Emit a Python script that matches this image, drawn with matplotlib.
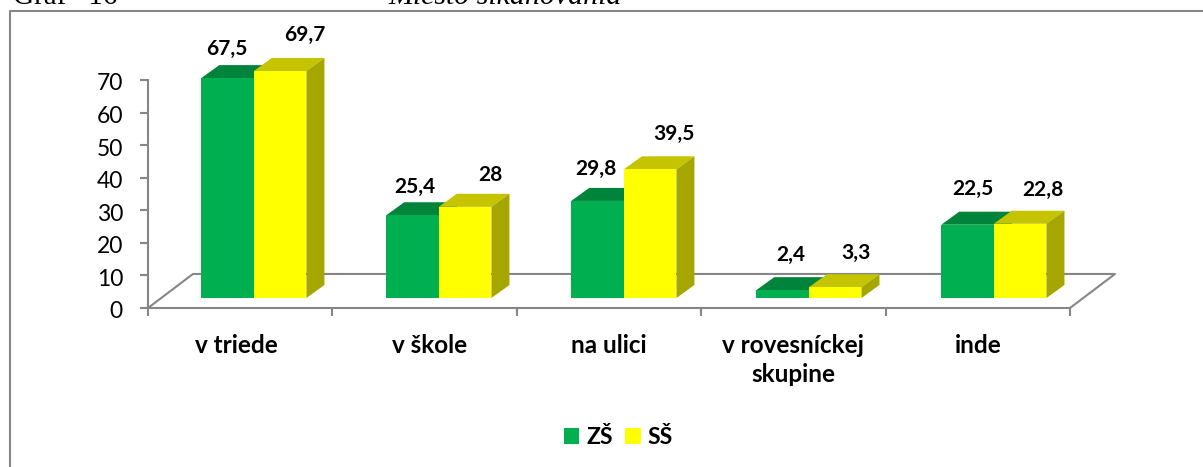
import matplotlib
matplotlib.use("Agg")
import matplotlib.pyplot as plt
from matplotlib.lines import Line2D
from matplotlib.patches import Patch, Polygon, Rectangle
from matplotlib.transforms import ScaledTranslation

categories = ["v triede", "v škole", "na ulici", "v rovesníckej\nskupine", "inde"]
zs_values = [67.5, 25.4, 29.8, 2.4, 22.5]
ss_values = [69.7, 28, 39.5, 3.3, 22.8]
zs_labels = ["67,5", "25,4", "29,8", "2,4", "22,5"]
ss_labels = ["69,7", "28", "39,5", "3,3", "22,8"]
yticks = [0, 10, 20, 30, 40, 50, 60, 70]

W, H = 1203, 467
FONT = "Lato"
GREY = "#868686"

# plot box in pixels
LEFT, RIGHT, BOTTOM, TOP = 148, 1070, 308, 80
BAR_W = 0.2853
BASE = 3.07
DEPTH_X = 0.0976
DEPTH_Y = 4.0
FLOOR_X = 0.244
FLOOR_Y = 10.45

# label nudges in pixels, relative to the middle of the front top edge
ZS_NUDGE = [(-1, 29), (2, 28), (-2, 32), (8, 35), (5, 36)]
SS_NUDGE = [(25, 36), (25, 32), (24, 35), (21, 34), (23, 34)]
CAT_NUDGE = [-4, 5, 0, 0, 0]


def bar3d(ax, x, value, front, top, side):
    y0 = BASE
    y1 = BASE + value
    x1 = x + BAR_W
    ax.add_patch(Polygon([(x, y1), (x + DEPTH_X, y1 + DEPTH_Y), (x1 + DEPTH_X, y1 + DEPTH_Y), (x1, y1)],
                         facecolor=top, edgecolor="none", clip_on=False, zorder=3))
    ax.add_patch(Polygon([(x1, y0), (x1 + DEPTH_X, y0 + DEPTH_Y), (x1 + DEPTH_X, y1 + DEPTH_Y), (x1, y1)],
                         facecolor=side, edgecolor="none", clip_on=False, zorder=3))
    ax.add_patch(Rectangle((x, y0), BAR_W, value, facecolor=front, edgecolor="none", clip_on=False, zorder=4))


def value_label(ax, text, x, value, nudge):
    ax.annotate(text, (x + BAR_W / 2, BASE + value), xytext=nudge, textcoords="offset pixels",
                ha="center", va="center", fontsize=15, fontweight="bold", family=FONT, color="black",
                annotation_clip=False, zorder=6)


def main():
    fig = plt.figure(figsize=(W / 100, H / 100), dpi=100)
    ax = fig.add_axes([LEFT / W, 1 - BOTTOM / H, (RIGHT - LEFT) / W, (BOTTOM - TOP) / H])
    ax.set_xlim(0, 5)
    ax.set_ylim(0, 70)
    ax.patch.set_visible(False)

    for s in ["top", "right"]:
        ax.spines[s].set_visible(False)
    for s in ["left", "bottom"]:
        ax.spines[s].set_color(GREY)
        ax.spines[s].set_linewidth(1.5)

    # floor of the 3d box
    ax.plot([0, FLOOR_X, 5 + FLOOR_X, 5], [0, FLOOR_Y, FLOOR_Y, 0], color=GREY, lw=1.5, clip_on=False, zorder=1)

    for i in range(len(categories)):
        x = i * 1.0033 + 0.5 + 0.076 - 0.2874
        bar3d(ax, x, zs_values[i], "#00B050", "#00843C", "#00843C")
        bar3d(ax, x + BAR_W, ss_values[i], "#FFFF00", "#C4C400", "#A6A600")
        value_label(ax, zs_labels[i], x, zs_values[i], ZS_NUDGE[i])
        value_label(ax, ss_labels[i], x + BAR_W, ss_values[i], SS_NUDGE[i])

    ax.set_yticks(yticks)
    ax.set_xticks(range(6))
    ax.set_xticklabels([])
    ax.tick_params(axis="both", color=GREY, width=1.5, length=6)
    ax.tick_params(axis="y", labelsize=16.5, pad=12)
    down = ScaledTranslation(0, -2 / 100, fig.dpi_scale_trans)
    for t in ax.get_yticklabels():
        t.set_family(FONT)
        t.set_transform(t.get_transform() + down)
    for i, name in enumerate(categories):
        ax.annotate(name, (i + 0.5, 0), xytext=(CAT_NUDGE[i], -26), textcoords="offset pixels", ha="center", va="top",
                    fontsize=17.5, fontweight="bold", family=FONT, linespacing=1.32, annotation_clip=False)

    handles = [Patch(facecolor="#00B050", label="ZŠ"), Patch(facecolor="#FFFF00", label="SŠ")]
    fig.legend(handles=handles, loc="center", bbox_to_anchor=(618.5 / W, 1 - 437.5 / H), ncol=2, frameon=False,
               handlelength=0.66, handleheight=0.66, handletextpad=0.3, columnspacing=0.55,
               borderpad=0, borderaxespad=0, prop={"family": FONT, "weight": "bold", "size": 16.5})

    # outer chart frame, its right and bottom sides are outside the crop
    fig.add_artist(Line2D([9.5 / W, 9.5 / W, 1], [0, 1 - 11 / H, 1 - 11 / H], transform=fig.transFigure,
                          color=GREY, lw=1.5))

    # caption cut off by the page crop
    fig.text(13 / W, 1 - 4.5 / H, "Graf   16", family="Liberation Serif", fontsize=21, va="baseline", ha="left")
    fig.text(388 / W, 1 - 4 / H, "Miesto šikanovania", family="Liberation Serif", style="italic",
             fontsize=21.5, va="baseline", ha="left")

    fig.savefig("out.png", dpi=100)


if __name__ == "__main__":
    main()
